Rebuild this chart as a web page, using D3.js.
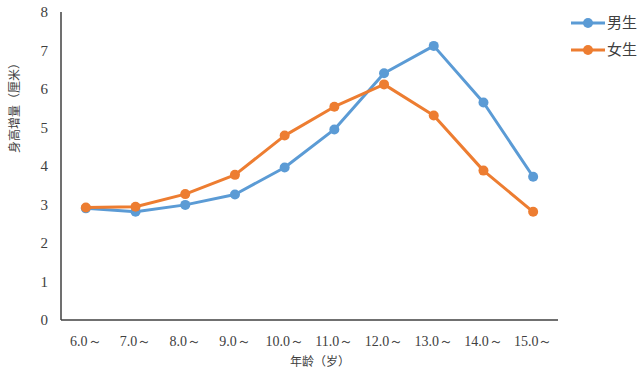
<!DOCTYPE html>
<html lang="zh">
<head>
    <meta charset="UTF-8">
    <title>身高增量</title>
    <style>
        body { margin: 0; background: #fff; }
        .tick-y text, .tick-x text { font-family: "Liberation Serif", "DejaVu Serif", serif; fill: #404040; }
        .title { font-family: "Noto Sans CJK SC", sans-serif; fill: #404040; }
        .legend text { font-family: "Noto Sans CJK SC", sans-serif; fill: #404040; }
    </style>
</head>
<body>
    <svg id="chart" width="640" height="373"></svg>

    <script src="https://d3js.org/d3.v7.min.js"></script>
    <script>
        // Kategorie (wiek) i serie
        const ages = ["6.0～", "7.0～", "8.0～", "9.0～", "10.0～", "11.0～", "12.0～", "13.0～", "14.0～", "15.0～"];
        const boys = [2.90, 2.81, 2.99, 3.26, 3.96, 4.95, 6.41, 7.12, 5.65, 3.72];
        const girls = [2.92, 2.94, 3.27, 3.77, 4.79, 5.54, 6.12, 5.31, 3.88, 2.81];
        const yTicks = [0, 1, 2, 3, 4, 5, 6, 7, 8];
        const seriesNames = ["男生", "女生"];
        const colors = ["#5b9bd5", "#ed7d31"];

        const svg = d3.select("#chart");
        const plot = {left: 61, right: 558, top: 12, bottom: 320};

        const x = d3.scaleBand()
            .domain(ages)
            .range([plot.left, plot.right]);

        const y = d3.scaleLinear()
            .domain([0, 8])
            .range([plot.bottom, plot.top]);

        // osie
        svg.append("line")
            .attr("x1", plot.left).attr("x2", plot.left)
            .attr("y1", plot.top).attr("y2", plot.bottom)
            .attr("stroke", "#404040").attr("stroke-width", 1.5);
        svg.append("line")
            .attr("x1", plot.left).attr("x2", plot.right)
            .attr("y1", plot.bottom).attr("y2", plot.bottom)
            .attr("stroke", "#404040").attr("stroke-width", 1.5);

        svg.append("g")
            .attr("class", "tick-y")
            .selectAll("text")
            .data(yTicks)
            .enter().append("text")
            .attr("x", 48)
            .attr("y", d => y(d))
            .attr("dy", "0.35em")
            .attr("text-anchor", "end")
            .style("font-size", "15px")
            .text(d => d);

        svg.append("g")
            .attr("class", "tick-x")
            .selectAll("text")
            .data(ages)
            .enter().append("text")
            .attr("x", d => x(d) + x.bandwidth() / 2)
            .attr("y", 341)
            .attr("dy", "0.35em")
            .attr("text-anchor", "middle")
            .style("font-size", "14px")
            .text(d => d);

        // opisy osi
        svg.append("text")
            .attr("class", "title")
            .attr("transform", "translate(15,105) rotate(-90)")
            .attr("text-anchor", "middle")
            .attr("dy", "0.35em")
            .style("font-size", "12px")
            .text("身高增量（厘米）");

        svg.append("text")
            .attr("class", "title")
            .attr("x", 320)
            .attr("y", 362)
            .attr("dy", "0.35em")
            .attr("text-anchor", "middle")
            .style("font-size", "12px")
            .text("年龄（岁）");

        const line = d3.line()
            .x((d, i) => x(ages[i]) + x.bandwidth() / 2)
            .y(d => y(d));

        [boys, girls].forEach((data, k) => {
            svg.append("path")
                .datum(data)
                .attr("fill", "none")
                .attr("stroke", colors[k])
                .attr("stroke-width", 3)
                .attr("stroke-linejoin", "round")
                .attr("d", line);

            svg.append("g")
                .selectAll("circle")
                .data(data)
                .enter().append("circle")
                .attr("cx", (d, i) => x(ages[i]) + x.bandwidth() / 2)
                .attr("cy", d => y(d))
                .attr("r", 5)
                .attr("fill", colors[k]);
        });

        // legenda
        const legend = svg.append("g").attr("class", "legend");
        seriesNames.forEach((name, k) => {
            const ly = 23 + k * 27;
            legend.append("line")
                .attr("x1", 571).attr("x2", 605)
                .attr("y1", ly).attr("y2", ly)
                .attr("stroke", colors[k]).attr("stroke-width", 3);
            legend.append("circle")
                .attr("cx", 588).attr("cy", ly).attr("r", 5)
                .attr("fill", colors[k]);
            legend.append("text")
                .attr("x", 607).attr("y", ly)
                .attr("dy", "0.35em")
                .style("font-size", "15px")
                .text(name);
        });
    </script>
</body>
</html>
